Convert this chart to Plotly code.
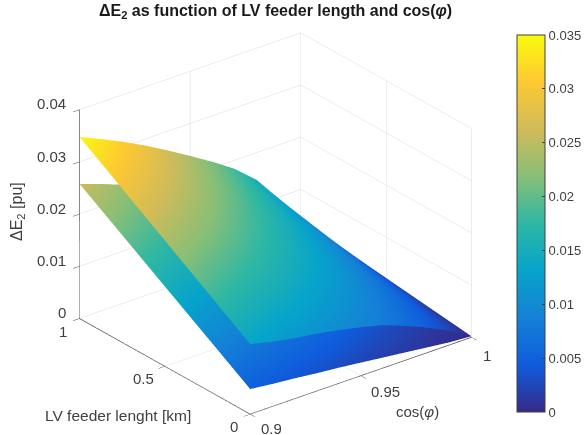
import plotly.graph_objects as go

cos_phi = [0.90, 0.91, 0.92, 0.93, 0.94, 0.95, 0.96, 0.97, 0.98, 0.99, 1.00]
length_km = [0.0, 0.5, 1.0]
upper_sheet = [
    [0.0134, 0.0124, 0.0116, 0.0110, 0.0102, 0.0093, 0.0082, 0.0066, 0.0048, 0.0027, 0.0002],
    [0.0241, 0.0227, 0.0213, 0.0199, 0.0183, 0.0166, 0.0147, 0.0125, 0.0098, 0.0062, 0.0022],
    [0.0348, 0.0329, 0.0309, 0.0287, 0.0263, 0.0238, 0.0212, 0.0184, 0.0148, 0.0097, 0.0043],
]
lower_sheet = [
    [0.0048, 0.0043, 0.0039, 0.0034, 0.0030, 0.0025, 0.0020, 0.0015, 0.0010, 0.0005, 0.0002],
    [0.0153, 0.0143, 0.0133, 0.0123, 0.0113, 0.0100, 0.0088, 0.0074, 0.0058, 0.0038, 0.0016],
    [0.0258, 0.0243, 0.0227, 0.0211, 0.0195, 0.0175, 0.0155, 0.0133, 0.0105, 0.0070, 0.0030],
]
z_ticks = [0, 0.01, 0.02, 0.03, 0.04]
z_labels = ["0", "0.01", "0.02", "0.03", "0.04"]
y_ticks = [0, 0.5, 1]
y_labels = ["0", "0.5", "1"]
x_ticks = [0.9, 0.95, 1.0]
x_labels = ["0.9", "0.95", "1"]
cbar_ticks = [0, 0.005, 0.01, 0.015, 0.02, 0.025, 0.03, 0.035]
cbar_labels = ["0", "0.005", "0.01", "0.015", "0.02", "0.025", "0.03", "0.035"]
parula = [
    [0.000, "#352a87"], [0.125, "#0f5cdd"], [0.250, "#1481d6"], [0.375, "#06a4ca"],
    [0.500, "#2eb7a4"], [0.625, "#87bf77"], [0.750, "#d1bb59"], [0.875, "#fec832"],
    [1.000, "#f9fb0e"],
]
INK = "#404040"
FONT = "Liberation Sans"
flat = dict(ambient=1, diffuse=0, specular=0, roughness=1, fresnel=0)

fig = go.Figure()
for sheet, show in ((lower_sheet, False), (upper_sheet, True)):
    fig.add_trace(go.Surface(
        x=cos_phi, y=length_km, z=sheet, cmin=0, cmax=0.035, colorscale=parula,
        showscale=show, lighting=flat, hoverinfo="skip",
        colorbar=dict(
            x=517 / 585, xanchor="left", xpad=0, ypad=0,
            y=(435 - 223.5) / 435, yanchor="middle",
            lenmode="pixels", len=377, thicknessmode="pixels", thickness=28,
            tickvals=cbar_ticks, ticktext=cbar_labels,
            ticks="inside", ticklen=3, tickcolor=INK,
            outlinecolor=INK, outlinewidth=1,
            tickfont=dict(family=FONT, size=13, color=INK),
        ),
    ))

tick_font = dict(family=FONT, size=15, color=INK)
scene_notes = []
for v, t in zip(z_ticks, z_labels):
    scene_notes.append(dict(x=0.9, y=1, z=v, text=t, showarrow=False, xanchor="right", yanchor="middle",
                            xshift=-11, yshift=6, font=tick_font))
for v, t, (sx, sy) in zip(y_ticks, y_labels, [(-16, -12), (-21, -12), (-16, -13)]):
    scene_notes.append(dict(x=0.9, y=v, z=0, text=t, showarrow=False, xanchor="center", yanchor="middle",
                            xshift=sx, yshift=sy, font=tick_font))
for v, t, (sx, sy) in zip(x_ticks, x_labels, [(21, -14), (25, -16), (15, -18)]):
    scene_notes.append(dict(x=v, y=0, z=0, text=t, showarrow=False, xanchor="center", yanchor="middle",
                            xshift=sx, yshift=sy, font=tick_font))

axis = dict(
    showbackground=False, showgrid=True, gridcolor="#d9d9d9", gridwidth=1,
    showline=True, linecolor=INK, linewidth=1.5, zeroline=False,
    ticks="outside", ticklen=8, tickcolor=INK, tickwidth=1, showspikes=False,
    showticklabels=False, title=dict(text=""),
)
fig.update_layout(
    width=585, height=435, margin=dict(l=0, r=0, t=0, b=0),
    paper_bgcolor="white", showlegend=False,
    scene=dict(
        domain=dict(x=[0, 0.942], y=[0, 0.972]),
        aspectmode="manual", aspectratio=dict(x=1.332, y=1.305, z=1.10),
        camera=dict(projection=dict(type="orthographic"),
                    eye=dict(x=-1.11, y=-1.41, z=0.882),
                    up=dict(x=0, y=0, z=1), center=dict(x=0, y=0, z=0)),
        xaxis=dict(axis, range=[0.9, 1.0], tickvals=x_ticks),
        yaxis=dict(axis, range=[0, 1], tickvals=y_ticks),
        zaxis=dict(axis, range=[0, 0.04], tickvals=z_ticks),
        annotations=scene_notes,
    ),
    annotations=[
        dict(text="<b>ΔE<sub>2</sub> as function of LV feeder length and cos(<i>φ</i>)</b>",
             x=275 / 585, y=1 - 11 / 435, xref="paper", yref="paper", showarrow=False,
             xanchor="center", yanchor="middle",
             font=dict(family=FONT, size=16, color="#1a1a1a")),
        dict(text="ΔE<sub>2</sub> [pu]", x=18 / 585, y=1 - 212 / 435, xref="paper", yref="paper",
             xanchor="center", yanchor="middle",
             textangle=-90, showarrow=False, font=dict(family=FONT, size=16, color=INK)),
        dict(text="LV feeder lenght [km]", x=118 / 585, y=1 - 415 / 435, xref="paper", yref="paper",
             xanchor="center", yanchor="middle",
             showarrow=False, font=dict(family=FONT, size=15.5, color=INK)),
        dict(text="cos(<i>φ</i>)", x=417 / 585, y=1 - 411 / 435, xref="paper", yref="paper",
             xanchor="center", yanchor="middle",
             showarrow=False, font=dict(family=FONT, size=15, color=INK)),
    ],
)
fig.write_html("out.html", post_script="document.body.style.margin='0';",
               config=dict(displayModeBar=False))
